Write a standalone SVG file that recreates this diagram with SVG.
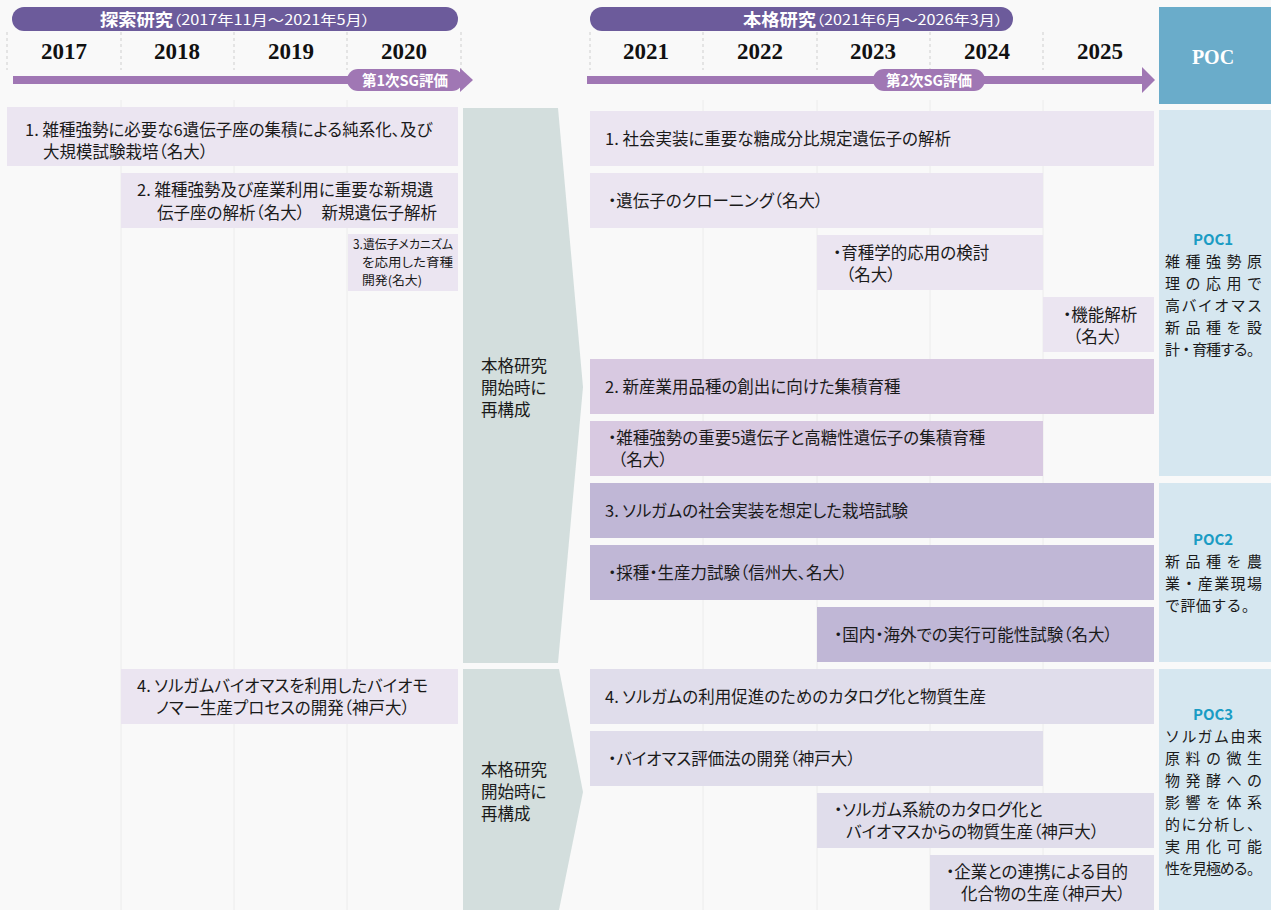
<svg xmlns="http://www.w3.org/2000/svg" width="1271" height="910" viewBox="0 0 1271 910">
<style>
.jp{font-family:"Noto Sans CJK JP","Noto Sans",sans-serif;fill:#1a1a1a;font-size:16.5px;font-feature-settings:"palt"}
.sm{font-size:12.5px}
.yr{font-family:"Liberation Serif",serif;font-weight:bold;font-size:23px;fill:#111;text-anchor:middle}
.hd{font-family:"Noto Sans CJK JP",sans-serif;fill:#fff;font-weight:bold;font-feature-settings:"palt"}
.hp{font-family:"Noto Sans CJK JP",sans-serif;fill:#fff;font-size:14px;font-feature-settings:"palt"}
.pill{fill:#6c5b9b}
.arr{fill:#a077b4}
.sep{stroke:#cfcfcf;stroke-width:1;stroke-dasharray:3 3}
.grid{stroke:#ececec;stroke-width:1}
.b1{fill:#ebe5f1}
.b2{fill:#d8c9e1}
.b3{fill:#c0b7d6}
.b4{fill:#e0ddeb}
.chev{fill:#d3dedd}
.poc{fill:#d6e7f0}
.poct{font-family:"Noto Sans CJK JP",sans-serif;font-weight:bold;font-size:15px;fill:#1a9cc4;text-anchor:middle}
.pocb{font-family:"Noto Sans CJK JP",sans-serif;font-size:15px;fill:#1a1a1a}
</style>
<rect width="1271" height="910" fill="#f9f9f9"/>
<g id="grid">
<line class="grid" x1="121" y1="100" x2="121" y2="910"/>
<line class="grid" x1="234" y1="100" x2="234" y2="910"/>
<line class="grid" x1="347" y1="100" x2="347" y2="910"/>
<line class="grid" x1="703" y1="100" x2="703" y2="910"/>
<line class="grid" x1="817" y1="100" x2="817" y2="910"/>
<line class="grid" x1="930" y1="100" x2="930" y2="910"/>
<line class="grid" x1="1043" y1="100" x2="1043" y2="910"/>
</g>
<g id="header-left">
<rect class="pill" x="12" y="7" width="446" height="24" rx="12"/>
<text class="hd" x="100" y="26" font-size="17.5" textLength="73" lengthAdjust="spacingAndGlyphs">探索研究</text>
<text class="hp" x="173" y="25" textLength="197" lengthAdjust="spacingAndGlyphs">（2017年11月〜2021年5月）</text>
<line class="sep" x1="7" y1="32" x2="7" y2="70"/>
<line class="sep" x1="121" y1="32" x2="121" y2="70"/>
<line class="sep" x1="234" y1="32" x2="234" y2="70"/>
<line class="sep" x1="347" y1="32" x2="347" y2="70"/>
<line class="sep" x1="461" y1="32" x2="461" y2="70"/>
<text class="yr" x="64" y="59">2017</text>
<text class="yr" x="177" y="59">2018</text>
<text class="yr" x="291" y="59">2019</text>
<text class="yr" x="404" y="59">2020</text>
</g>
<g id="header-right">
<rect class="pill" x="590" y="7" width="423" height="24" rx="12"/>
<text class="hd" x="743" y="26" font-size="17.5" textLength="73" lengthAdjust="spacingAndGlyphs">本格研究</text>
<text class="hp" x="816" y="25" textLength="187" lengthAdjust="spacingAndGlyphs">（2021年6月〜2026年3月）</text>
<line class="sep" x1="590" y1="32" x2="590" y2="70"/>
<line class="sep" x1="703" y1="32" x2="703" y2="70"/>
<line class="sep" x1="817" y1="32" x2="817" y2="70"/>
<line class="sep" x1="930" y1="32" x2="930" y2="70"/>
<line class="sep" x1="1043" y1="32" x2="1043" y2="70"/>
<text class="yr" x="646" y="59">2021</text>
<text class="yr" x="760" y="59">2022</text>
<text class="yr" x="873" y="59">2023</text>
<text class="yr" x="987" y="59">2024</text>
<text class="yr" x="1100" y="59">2025</text>
</g>
<g id="poc-header">
<rect x="1159" y="7" width="112" height="97" fill="#6aacca"/>
<text x="1213" y="64" font-family="Liberation Serif,serif" font-weight="bold" font-size="20" fill="#fff" text-anchor="middle">POC</text>
</g>
<g id="connectors">
<rect class="arr" x="13" y="76" width="450" height="8"/>
<polygon class="arr" points="460,68 473,80 460,92"/>
<rect class="arr" x="347" y="69" width="116" height="22" rx="11"/>
<text class="hd" x="405" y="86" font-size="14.5" text-anchor="middle">第1次SG評価</text>
<rect class="arr" x="587" y="76" width="557" height="8"/>
<polygon class="arr" points="1142,67 1155,80 1142,93"/>
<rect class="arr" x="873" y="69" width="112" height="22" rx="11"/>
<text class="hd" x="929" y="86" font-size="14.5" text-anchor="middle">第2次SG評価</text>
</g>
<g id="left-1">
<rect class="b1" x="7" y="107" width="451" height="59"/>
<text class="jp" x="25" y="136">1. 雑種強勢に必要な6遺伝子座の集積による純系化、及び</text>
<text class="jp" x="43" y="158">大規模試験栽培（名大）</text>
</g>
<g id="left-2">
<rect class="b1" x="121" y="173" width="337" height="55"/>
<text class="jp" x="137" y="196">2. 雑種強勢及び産業利用に重要な新規遺</text>
<text class="jp" x="157" y="219">伝子座の解析（名大）　新規遺伝子解析</text>
</g>
<g id="left-3">
<rect class="b1" x="348" y="234" width="110" height="57"/>
<text class="jp sm" x="353" y="249" textLength="100" lengthAdjust="spacingAndGlyphs">3.遺伝子メカニズム</text>
<text class="jp sm" x="362" y="267" textLength="91" lengthAdjust="spacingAndGlyphs">を応用した育種</text>
<text class="jp sm" x="362" y="285" textLength="60" lengthAdjust="spacingAndGlyphs">開発(名大)</text>
</g>
<g id="left-4">
<rect class="b1" x="121" y="669" width="337" height="55"/>
<text class="jp" x="137" y="692">4. ソルガムバイオマスを利用したバイオモ</text>
<text class="jp" x="156" y="714">ノマー生産プロセスの開発（神戸大）</text>
</g>
<g id="restructure-1">
<path class="chev" d="M463,108 H558 L583,387 L558,663 H463 Z"/>
<text class="jp" x="481" y="372">本格研究</text>
<text class="jp" x="481" y="394">開始時に</text>
<text class="jp" x="481" y="416">再構成</text>
</g>
<g id="restructure-2">
<path class="chev" d="M463,669 H559 L583,792 L559,910 H463 Z"/>
<text class="jp" x="481" y="776">本格研究</text>
<text class="jp" x="481" y="798">開始時に</text>
<text class="jp" x="481" y="820">再構成</text>
</g>
<g id="r1">
<rect class="b1" x="590" y="111" width="564" height="55"/>
<text class="jp" x="605" y="145">1. 社会実装に重要な糖成分比規定遺伝子の解析</text>
</g>
<g id="r1a">
<rect class="b1" x="590" y="173" width="453" height="55"/>
<text class="jp" x="608" y="207">・遺伝子のクローニング（名大）</text>
</g>
<g id="r1b">
<rect class="b1" x="817" y="235" width="226" height="55"/>
<text class="jp" x="833" y="259">・育種学的応用の検討</text>
<text class="jp" x="846" y="281">（名大）</text>
</g>
<g id="r1c">
<rect class="b1" x="1043" y="297" width="111" height="55"/>
<text class="jp" x="1063" y="321">・機能解析</text>
<text class="jp" x="1073" y="343">（名大）</text>
</g>
<g id="r2">
<rect class="b2" x="590" y="359" width="564" height="55"/>
<text class="jp" x="605" y="393">2. 新産業用品種の創出に向けた集積育種</text>
</g>
<g id="r2a">
<rect class="b2" x="590" y="421" width="453" height="55"/>
<text class="jp" x="608" y="444">・雑種強勢の重要5遺伝子と高糖性遺伝子の集積育種</text>
<text class="jp" x="618" y="466">（名大）</text>
</g>
<g id="r3">
<rect class="b3" x="590" y="483" width="564" height="55"/>
<text class="jp" x="605" y="517">3. ソルガムの社会実装を想定した栽培試験</text>
</g>
<g id="r3a">
<rect class="b3" x="590" y="545" width="564" height="55"/>
<text class="jp" x="608" y="579">・採種・生産力試験（信州大、名大）</text>
</g>
<g id="r3b">
<rect class="b3" x="817" y="607" width="337" height="55"/>
<text class="jp" x="834" y="641">・国内・海外での実行可能性試験（名大）</text>
</g>
<g id="r4">
<rect class="b4" x="590" y="669" width="564" height="55"/>
<text class="jp" x="605" y="703">4. ソルガムの利用促進のためのカタログ化と物質生産</text>
</g>
<g id="r4a">
<rect class="b4" x="590" y="731" width="453" height="55"/>
<text class="jp" x="608" y="765">・バイオマス評価法の開発（神戸大）</text>
</g>
<g id="r4b">
<rect class="b4" x="817" y="793" width="337" height="55"/>
<text class="jp" x="834" y="816">・ソルガム系統のカタログ化と</text>
<text class="jp" x="846" y="838">バイオマスからの物質生産（神戸大）</text>
</g>
<g id="r4c">
<rect class="b4" x="930" y="855" width="224" height="55"/>
<text class="jp" x="946" y="878">・企業との連携による目的</text>
<text class="jp" x="961" y="900">化合物の生産（神戸大）</text>
</g>
<g id="poc1">
<rect class="poc" x="1159" y="110" width="112" height="366"/>
<text class="poct" x="1213" y="245">POC1</text>
<text class="pocb" x="1165" y="267" textLength="97" lengthAdjust="spacing">雑種強勢原</text>
<text class="pocb" x="1165" y="289" textLength="97" lengthAdjust="spacing">理の応用で</text>
<text class="pocb" x="1165" y="311" textLength="97" lengthAdjust="spacing">高バイオマス</text>
<text class="pocb" x="1165" y="333" textLength="97" lengthAdjust="spacing">新品種を設</text>
<text class="pocb" x="1165" y="355" textLength="97" lengthAdjust="spacing">計・育種する。</text>
</g>
<g id="poc2">
<rect class="poc" x="1159" y="483" width="112" height="179"/>
<text class="poct" x="1213" y="545">POC2</text>
<text class="pocb" x="1165" y="567" textLength="97" lengthAdjust="spacing">新品種を農</text>
<text class="pocb" x="1165" y="589" textLength="97" lengthAdjust="spacing">業・産業現場</text>
<text class="pocb" x="1165" y="611" textLength="92" lengthAdjust="spacing">で評価する。</text>
</g>
<g id="poc3">
<rect class="poc" x="1159" y="669" width="112" height="241"/>
<text class="poct" x="1213" y="720">POC3</text>
<text class="pocb" x="1165" y="742" textLength="97" lengthAdjust="spacing">ソルガム由来</text>
<text class="pocb" x="1165" y="764" textLength="97" lengthAdjust="spacing">原料の微生</text>
<text class="pocb" x="1165" y="786" textLength="97" lengthAdjust="spacing">物発酵への</text>
<text class="pocb" x="1165" y="808" textLength="97" lengthAdjust="spacing">影響を体系</text>
<text class="pocb" x="1165" y="830" textLength="97" lengthAdjust="spacing">的に分析し、</text>
<text class="pocb" x="1165" y="852" textLength="97" lengthAdjust="spacing">実用化可能</text>
<text class="pocb" x="1165" y="874" textLength="97" lengthAdjust="spacing">性を見極める。</text>
</g>
</svg>
